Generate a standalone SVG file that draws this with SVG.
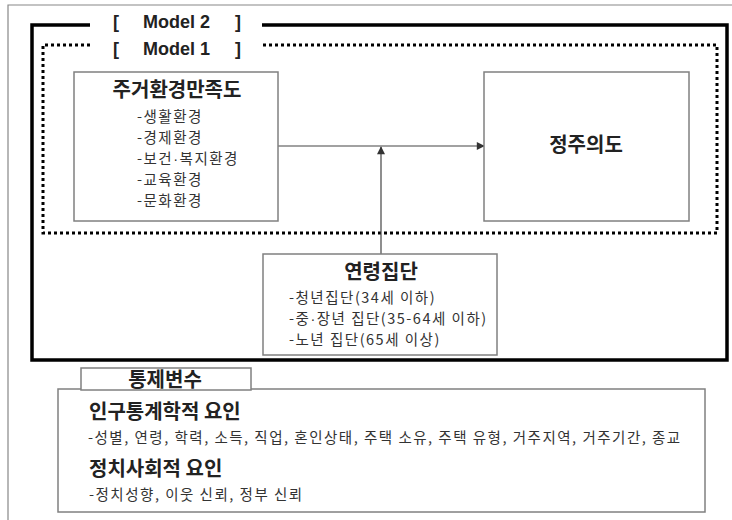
<svg xmlns="http://www.w3.org/2000/svg" width="732" height="520" viewBox="0 0 732 520">
<style>
.kr{font-family:"Noto Sans CJK KR","Liberation Sans",sans-serif;fill:#222}
.t{font-weight:bold;font-size:20px}
.b{font-size:14.5px;letter-spacing:1.5px;fill:#333}
.dot{font-family:"Liberation Sans",sans-serif}
.lbl{font-family:"Liberation Sans","Noto Sans CJK KR",sans-serif;font-weight:bold;font-size:18px;fill:#222}
.box{fill:#fff;stroke:#808080;stroke-width:1.5}
.conn{stroke:#444;stroke-width:1.2;fill:none}
</style>
<defs>
<marker id="ah" viewBox="0 0 10 10" refX="9" refY="5" markerWidth="9" markerHeight="8" markerUnits="userSpaceOnUse" orient="auto">
<path d="M0,0 L10,5 L0,10 Z" fill="#333"/>
</marker>
</defs>
<rect width="732" height="520" fill="#fff"/>
<g id="outer-frame">
<path d="M8,525 V5 H740" fill="none" stroke="#888" stroke-width="1.2"/>
</g>
<g id="model2">
<path d="M90,25 H32 V360 H727 V25 H262" fill="none" stroke="#000" stroke-width="3.5"/>
<text class="lbl" x="113" y="28">[</text>
<text class="lbl" x="143" y="28">Model 2</text>
<text class="lbl" x="235" y="28">]</text>
</g>
<g id="model1">
<path d="M90,45 H43 V233 H717 V45 H262" fill="none" stroke="#000" stroke-width="3" stroke-dasharray="3 3"/>
<text class="lbl" x="113" y="55">[</text>
<text class="lbl" x="143" y="55">Model 1</text>
<text class="lbl" x="235" y="55">]</text>
</g>
<g id="connectors">
<line class="conn" x1="278" y1="146" x2="484" y2="146" marker-end="url(#ah)"/>
<line class="conn" x1="381" y1="254" x2="381" y2="147" marker-end="url(#ah)"/>
</g>
<g id="housing-satisfaction">
<rect class="box" x="74" y="72" width="204" height="149"/>
<text class="kr t" x="177" y="97" text-anchor="middle" font-size="21">주거환경만족도</text>
<text class="kr b" x="137" y="122">-생활환경</text>
<text class="kr b" x="137" y="143">-경제환경</text>
<text class="kr b" x="137" y="164">-보건<tspan class="dot">·</tspan>복지환경</text>
<text class="kr b" x="137" y="185">-교육환경</text>
<text class="kr b" x="137" y="206">-문화환경</text>
</g>
<g id="settlement-intention">
<rect class="box" x="484" y="72" width="205" height="149"/>
<text class="kr t" x="586" y="152" text-anchor="middle" font-size="20.5">정주의도</text>
</g>
<g id="age-group">
<rect class="box" x="263" y="254" width="234" height="101"/>
<text class="kr t" x="381" y="279" text-anchor="middle">연령집단</text>
<text class="kr b" x="289" y="303">-청년집단(34세 이하)</text>
<text class="kr b" x="289" y="324">-중<tspan class="dot">·</tspan>장년 집단(35-64세 이하)</text>
<text class="kr b" x="289" y="345">-노년 집단(65세 이상)</text>
</g>
<g id="control-variables">
<rect class="box" x="58" y="389" width="647" height="123"/>
<rect class="box" x="81" y="368" width="170" height="22"/>
<text class="kr t" x="165" y="387" text-anchor="middle">통제변수</text>
<text class="kr t" x="89" y="419" font-size="19.5">인구통계학적 요인</text>
<text class="kr b" x="88" y="443" font-size="15" letter-spacing="0.68">-성별, 연령, 학력, 소득, 직업, 혼인상태, 주택 소유, 주택 유형, 거주지역, 거주기간, 종교</text>
<text class="kr t" x="89" y="476" font-size="19.5">정치사회적 요인</text>
<text class="kr b" x="89" y="499.5" font-size="15" letter-spacing="1.05">-정치성향, 이웃 신뢰, 정부 신뢰</text>
</g>
</svg>
